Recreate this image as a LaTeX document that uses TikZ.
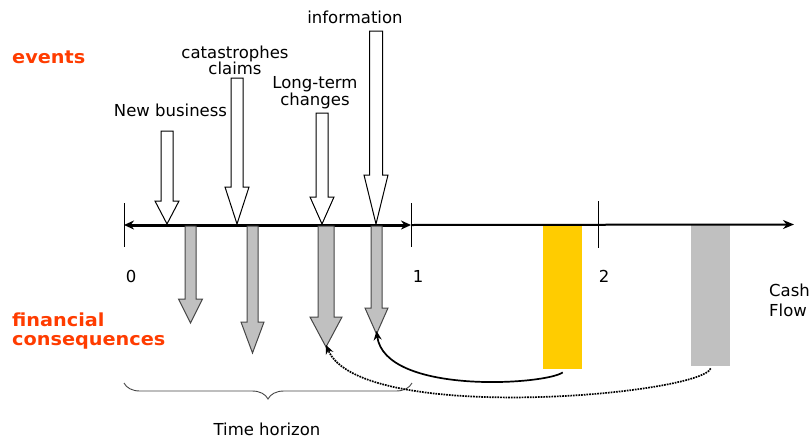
\documentclass[tikz,border=0pt]{standalone}
\usepackage{fontspec}
\setmainfont{DejaVu Sans}
\newfontfamily\redfont{DejaVu Sans}[FakeStretch=1.07]
\usetikzlibrary{decorations.pathreplacing,arrows.meta}
\definecolor{evred}{RGB}{255,60,0}
\definecolor{cfyellow}{RGB}{255,204,0}
\definecolor{cfgray}{RGB}{192,192,192}
\definecolor{edgegray}{RGB}{70,70,70}
% #1 style, #2 tip x, #3 shaft half width, #4 head half width, #5 top y, #6 head y, #7 tip y, #8 tip name
\newcommand\blkarrow[8]{%
  \draw[#1] ({#2-#3},#5) -- ({#2+#3},#5) -- ({#2+#3},#6) -- ({#2+#4},#6) -- (#2,#7)
     -- ({#2-#4},#6) -- ({#2-#3},#6) -- cycle;
  \coordinate (#8) at (#2,#7);}
\begin{document}
\begin{tikzpicture}[x=1pt,y=-1pt,
  lbl/.style={inner sep=0pt, font=\fontsize{16.5}{18}\selectfont},
  redlbl/.style={inner sep=0pt, text=evred, font=\redfont\fontsize{18}{18}\selectfont\bfseries},
  eventarrow/.style={draw=black, fill=white, line width=1pt, line join=miter},
  finarrow/.style={draw=edgegray, fill=cfgray, line width=1pt, line join=miter},
  tick/.style={draw=black, line width=0.9pt},
  cashbar/.style={draw=none, inner sep=0pt, anchor=north west},
  link/.style={draw=black, line width=1.7pt, -{Stealth[length=9pt,width=8pt]}},
]
\useasboundingbox (0,0) rectangle (810,439);

% red labels
\node[redlbl, anchor=base west] (ev) at (12,63) {events};
\node[redlbl, anchor=base west] (fin1) at (12,326) {financial};
\node[redlbl, anchor=base west] (fin2) at (12,345) {consequences};

% cash flow bars
\node[cashbar, fill=cfyellow, minimum width=39pt, minimum height=144pt] (ybar) at (543,225) {};
\node[cashbar, fill=cfgray, minimum width=39pt, minimum height=141pt] (gbar) at (691,225) {};

% axis
\coordinate (a0) at (124,225);
\coordinate (a1) at (411,225);
\coordinate (aend) at (794,224.5);
\draw[line width=2pt, -{Stealth[length=11pt,width=9pt]}] (a1) -- (aend);
\draw[line width=3pt, {Stealth[length=10pt,width=9pt]}-{Stealth[length=10pt,width=9pt]}] (a0) -- (a1);
\coordinate (t0a) at (124,203); \coordinate (t0b) at (124,247);
\coordinate (t1a) at (411,203); \coordinate (t1b) at (411,247);
\coordinate (t2a) at (598,201); \coordinate (t2b) at (598,248);
\draw[tick] (t0a) -- (t0b);
\draw[tick] (t1a) -- (t1b);
\draw[tick] (t2a) -- (t2b);

% event arrows
\blkarrow{eventarrow}{167}{6}{12}{131}{201}{224}{e1}
\blkarrow{eventarrow}{237}{6}{12}{78}{187}{224}{e2}
\blkarrow{eventarrow}{322}{6}{12}{113}{197}{224}{e3}
\blkarrow{eventarrow}{376}{6.5}{12}{31}{175}{224}{e4}

% financial consequence arrows
\blkarrow{finarrow}{190.5}{5.5}{12}{226}{299}{323}{f1}
\blkarrow{finarrow}{252.5}{5.5}{11.5}{226}{322}{353}{f2}
\blkarrow{finarrow}{326}{8}{16}{226}{317}{347}{f3}
\blkarrow{finarrow}{376.5}{5.5}{11.5}{226}{308}{334}{f4}

% labels
\node[lbl, anchor=base] (info) at (355,23) {information};
\node[lbl, anchor=base] (cat1) at (235,58) {catastrophes};
\node[lbl, anchor=base] (cat2) at (235,74) {claims};
\node[lbl, anchor=base] (lt1) at (315,88) {Long-term};
\node[lbl, anchor=base] (lt2) at (315,105) {changes};
\node[lbl, anchor=base] (nb) at (170.5,116) {New business};
\node[lbl, anchor=base] (n0) at (131,282) {0};
\node[lbl, anchor=base] (n1) at (418,282) {1};
\node[lbl, anchor=base] (n2) at (604,282) {2};
\node[lbl, anchor=base west] (cf1) at (769,296) {Cash};
\node[lbl, anchor=base west] (cf2) at (769,316) {Flow};
\node[lbl, anchor=base] (th) at (267,435) {Time horizon};

% time horizon brace
\coordinate (b0) at (124,383);
\coordinate (b1) at (412,383);
\draw[edgegray, line width=0.9pt, decorate, decoration={brace, mirror, amplitude=16pt}] (b0) -- (b1);

% connectors from cash flows back to consequences
\draw[link] ([yshift=-3pt]ybar.south) .. controls (545,385) and (385,395) .. ([yshift=3pt]f4);
\draw[link, densely dotted] ([yshift=-2pt]gbar.south) .. controls (700,395) and (360,425) .. ([yshift=2pt]f3);
\end{tikzpicture}
\end{document}
